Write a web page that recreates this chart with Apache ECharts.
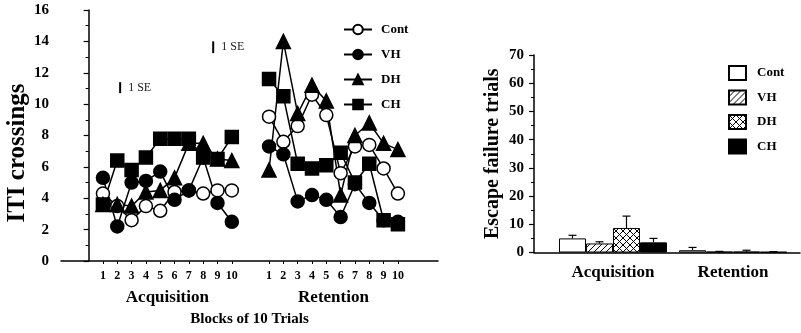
<!DOCTYPE html>
<html>
<head>
<meta charset="utf-8">
<script src="https://cdn.jsdelivr.net/npm/echarts@6/dist/echarts.min.js"></script>
<style>
html, body { margin: 0; padding: 0; background: #fff; }
#main { width: 801px; height: 333px; }
</style>
</head>
<body>
<div id="main"></div>
<script>
'use strict';

// ITI crossings, blocks of 10 trials
var blocks = [1, 2, 3, 4, 5, 6, 7, 8, 9, 10];
var contAcq = [4.3, 3.5, 2.6, 3.5, 3.2, 4.4, 4.5, 4.3, 4.5, 4.5];
var vhAcq = [5.3, 2.2, 5.0, 5.1, 5.7, 3.9, 4.5, 6.6, 3.7, 2.5];
var dhAcq = [3.6, 3.6, 3.5, 4.4, 4.5, 5.3, 7.5, 7.5, 6.5, 6.4];
var chAcq = [3.6, 6.4, 5.8, 6.6, 7.8, 7.8, 7.8, 6.6, 6.5, 7.9];
var contRet = [9.2, 7.6, 8.6, 10.6, 9.3, 5.6, 7.3, 7.4, 5.9, 4.3];
var vhRet = [7.3, 6.8, 3.8, 4.2, 3.9, 2.8, 4.9, 3.7, 2.6, 2.5];
var dhRet = [5.8, 14.0, 9.4, 11.2, 10.2, 4.2, 8.0, 8.8, 7.5, 7.1];
var chRet = [11.6, 10.5, 6.2, 5.9, 6.1, 6.9, 5.0, 6.2, 2.6, 2.35];
var phases = ['Acquisition', 'Retention'];
var groups = ['Cont', 'VH', 'DH', 'CH'];
// 1 SE reference marks: [block position, low, high]
var seMarks = [[2.2, 10.7, 11.4], [8.7, 13.25, 14.0]];

// Escape failure trials (mean, SE) for acquisition / retention
var contEsc = [5.0, 0.8];
var vhEsc = [3.2, 0.3];
var dhEsc = [8.7, 0.3];
var chEsc = [3.6, 0.2];
var contSE = [1.1, 1.0];
var vhSE = [0.6, 0.1];
var dhSE = [4.2, 0.5];
var chSE = [1.4, 0.1];

var RET_SHIFT = 11.6;
var BAR_W = 27;
var FONT = 'Liberation Serif';

function pts(ys, shift) {
  return blocks.map(function (b, i) { return [b + shift, ys[i]]; });
}
function mean(a) {
  return a.reduce(function (s, v) { return s + v; }, 0) / a.length;
}
function hatch(size, cross) {
  var c = document.createElement('canvas');
  c.width = c.height = size;
  var g = c.getContext('2d');
  g.fillStyle = '#fff';
  g.fillRect(0, 0, size, size);
  g.strokeStyle = '#000';
  g.lineWidth = 1;
  g.beginPath();
  g.moveTo(-1, size + 1); g.lineTo(size + 1, -1);
  g.moveTo(-1, 1); g.lineTo(1, -1);
  g.moveTo(size - 1, size + 1); g.lineTo(size + 1, size - 1);
  if (cross) {
    g.moveTo(-1, -1); g.lineTo(size + 1, size + 1);
    g.moveTo(size - 1, -1); g.lineTo(size + 1, 1);
    g.moveTo(-1, size - 1); g.lineTo(1, size + 1);
  }
  g.stroke();
  return c;
}

var acqCenter = mean(blocks);
var retCenter = mean(blocks) + RET_SHIFT;
var tickVals = blocks.concat(blocks.map(function (b) { return b + RET_SHIFT; }));

var lineStyles = {
  Cont: { symbol: 'circle', fill: '#fff' },
  VH: { symbol: 'circle', fill: '#000' },
  DH: { symbol: 'triangle', fill: '#000' },
  CH: { symbol: 'rect', fill: '#000' }
};
var acqData = { Cont: contAcq, VH: vhAcq, DH: dhAcq, CH: chAcq };
var retData = { Cont: contRet, VH: vhRet, DH: dhRet, CH: chRet };

var series = [];
groups.forEach(function (name) {
  [pts(acqData[name], 0), pts(retData[name], RET_SHIFT)].forEach(function (d) {
    series.push({
      name: name,
      type: 'line',
      xAxisIndex: 0,
      yAxisIndex: 0,
      data: d,
      symbol: lineStyles[name].symbol,
      symbolSize: name === 'DH' ? 14 : 13,
      lineStyle: { color: '#000', width: 1.5 },
      itemStyle: { color: lineStyles[name].fill, borderColor: '#000', borderWidth: 1.5 },
      animation: false
    });
  });
});

series.push({
  type: 'custom',
  xAxisIndex: 0,
  yAxisIndex: 0,
  data: seMarks,
  renderItem: function (params, api) {
    var lo = api.coord([api.value(0), api.value(1)]);
    var hi = api.coord([api.value(0), api.value(2)]);
    return {
      type: 'group',
      children: [
        { type: 'line', shape: { x1: lo[0], y1: lo[1], x2: hi[0], y2: hi[1] },
          style: { stroke: '#000', lineWidth: 2 } },
        { type: 'text', x: lo[0] + 8, y: (lo[1] + hi[1]) / 2,
          style: { text: '1 SE', font: '12px "' + FONT + '"', fill: '#222', verticalAlign: 'middle' } }
      ]
    };
  },
  animation: false
});

var escData = { Cont: [contEsc, contSE], VH: [vhEsc, vhSE], DH: [dhEsc, dhSE], CH: [chEsc, chSE] };
var barFill = { Cont: '#fff', VH: { image: hatch(6, false), repeat: 'repeat' },
  DH: { image: hatch(7, true), repeat: 'repeat' }, CH: '#000' };
var errData = [];
groups.forEach(function (name, k) {
  var m = escData[name][0], se = escData[name][1];
  series.push({
    name: name + ' (escape)',
    type: 'bar',
    xAxisIndex: 2,
    yAxisIndex: 1,
    data: phases.map(function (p, i) { return [i + 1, m[i]]; }),
    barWidth: BAR_W,
    barGap: '0%',
    itemStyle: { color: barFill[name], borderColor: '#000', borderWidth: 1 },
    animation: false
  });
  phases.forEach(function (p, i) { errData.push([i + 1, m[i], m[i] + se[i], k]); });
});

series.push({
  type: 'custom',
  xAxisIndex: 2,
  yAxisIndex: 1,
  data: errData,
  z: 5,
  renderItem: function (params, api) {
    var base = api.coord([api.value(0), api.value(1)]);
    var top = api.coord([api.value(0), api.value(2)]);
    var x = base[0] + (api.value(3) - 1.5) * BAR_W;
    return {
      type: 'group',
      children: [
        { type: 'line', shape: { x1: x, y1: base[1], x2: x, y2: top[1] }, style: { stroke: '#000', lineWidth: 1.2 } },
        { type: 'line', shape: { x1: x - 4, y1: top[1], x2: x + 4, y2: top[1] }, style: { stroke: '#000', lineWidth: 1.2 } }
      ]
    };
  },
  animation: false
});

var axisFont = { fontFamily: FONT, fontWeight: 'bold', color: '#000' };

var option = {
  backgroundColor: '#fff',
  animation: false,
  textStyle: { fontFamily: FONT },
  grid: [
    { left: 61, right: 363, top: 10, bottom: 72 },
    { left: 534, right: 1, top: 55, bottom: 80.5 }
  ],
  legend: [
    {
      data: groups,
      orient: 'vertical',
      left: 338,
      top: 18,
      itemWidth: 28,
      itemHeight: 12,
      itemGap: 12,
      textStyle: { fontFamily: FONT, fontWeight: 'bold', fontSize: 13, color: '#000', padding: [0, 0, 0, 4] }
    },
    {
      data: groups.map(function (g) { return g + ' (escape)'; }),
      orient: 'vertical',
      left: 723,
      top: 60,
      icon: 'rect',
      itemWidth: 17,
      itemHeight: 14,
      itemGap: 8.5,
      formatter: function (n) { return n.split(' ')[0]; },
      textStyle: { fontFamily: FONT, fontWeight: 'bold', fontSize: 13, color: '#000', padding: [0, 0, 0, 6] }
    }
  ],
  xAxis: [
    {
      type: 'value',
      gridIndex: 0,
      min: -1.93,
      max: 24.4,
      splitLine: { show: false },
      axisLine: { lineStyle: { color: '#000', width: 1.5 } },
      axisTick: { customValues: tickVals, length: 3, lineStyle: { color: '#000' } },
      axisLabel: Object.assign({
        customValues: tickVals,
        fontSize: 12,
        margin: 9,
        formatter: function (v) { return String(Math.round(v > 10.5 ? v - RET_SHIFT : v)); }
      }, axisFont),
      name: 'Blocks of 10 Trials',
      nameLocation: 'middle',
      nameGap: 51,
      nameTextStyle: Object.assign({ fontSize: 15 }, axisFont)
    },
    {
      type: 'value',
      gridIndex: 0,
      min: -1.93,
      max: 24.4,
      position: 'bottom',
      splitLine: { show: false },
      axisLine: { show: false },
      axisTick: { show: false },
      axisLabel: Object.assign({
        customValues: [acqCenter, retCenter],
        fontSize: 17,
        margin: 28,
        formatter: function (v) { return v < 12 ? phases[0] : phases[1]; }
      }, axisFont)
    },
    {
      type: 'value',
      gridIndex: 1,
      min: 0.342,
      max: 2.558,
      splitLine: { show: false },
      axisLine: { lineStyle: { color: '#000', width: 1.5 } },
      axisTick: { show: false },
      axisLabel: Object.assign({
        customValues: [1, 2],
        fontSize: 17,
        margin: 12,
        formatter: function (v) { return phases[Math.round(v) - 1]; }
      }, axisFont)
    }
  ],
  yAxis: [
    {
      type: 'value',
      gridIndex: 0,
      min: 0,
      max: 16,
      interval: 2,
      splitLine: { show: false },
      axisLine: { show: true, lineStyle: { color: '#000', width: 1.5 } },
      axisTick: { show: true, length: 5, lineStyle: { color: '#000', width: 1.2 } },
      minorTick: { show: true, splitNumber: 2, length: 3, lineStyle: { color: '#000' } },
      axisLabel: Object.assign({ fontSize: 15, margin: 12 }, axisFont)
    },
    {
      type: 'value',
      gridIndex: 1,
      min: 0,
      max: 70,
      interval: 10,
      splitLine: { show: false },
      axisLine: { show: true, lineStyle: { color: '#000', width: 1.5 } },
      axisTick: { show: true, length: 5, lineStyle: { color: '#000', width: 1.2 } },
      minorTick: { show: true, splitNumber: 2, length: 3, lineStyle: { color: '#000' } },
      axisLabel: Object.assign({ fontSize: 15, margin: 10 }, axisFont),
      name: 'Escape failure trials',
      nameLocation: 'middle',
      nameGap: 31,
      nameTextStyle: Object.assign({ fontSize: 20 }, axisFont)
    }
  ],
  graphic: [
    {
      type: 'text',
      x: 18,
      y: 153,
      rotation: Math.PI / 2,
      style: {
        text: 'ITI crossings',
        font: 'bold 25px "' + FONT + '"',
        fill: '#000',
        align: 'center',
        verticalAlign: 'middle'
      }
    }
  ],
  series: series
};

var chart = echarts.init(document.getElementById('main'), null, { renderer: 'canvas' });
chart.setOption(option);
</script>
</body>
</html>
